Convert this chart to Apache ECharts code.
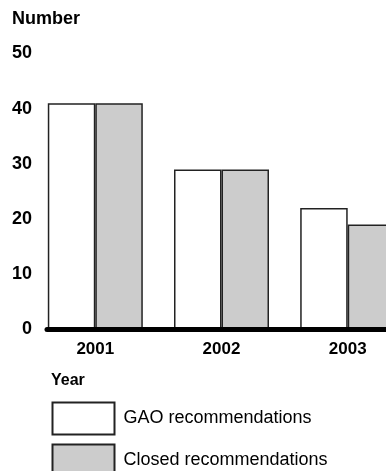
<!DOCTYPE html>
<html>
<head>
<meta charset="utf-8">
<script src="https://cdn.jsdelivr.net/npm/echarts@6/dist/echarts.min.js"></script>
<style>
  html, body { margin: 0; padding: 0; background: #ffffff; }
  #chart { width: 386px; height: 471px; }
</style>
</head>
<body>
<div id="chart"></div>
<script>
// Recommendations by year
var years = ['2001', '2002', '2003'];
var gaoRecommendations = [41, 29, 22];
var closedRecommendations = [41, 29, 19];
var yTicks = { min: 0, max: 50, interval: 10 };

var FONT = '"Liberation Sans", Arial, Helvetica, sans-serif';
var GRID_TOP = 53.5;
var GRID_BOTTOM = 141.5;

var chart = echarts.init(document.getElementById('chart'), null, { renderer: 'canvas' });

chart.setOption({
  animation: false,
  backgroundColor: '#ffffff',
  title: [
    {
      text: 'Number',
      left: 12, top: 10, padding: 0,
      textStyle: { fontFamily: FONT, fontSize: 18, fontWeight: 'bold', color: '#000' }
    },
    {
      text: 'Year',
      left: 51, top: 373, padding: 0,
      textStyle: { fontFamily: FONT, fontSize: 16, fontWeight: 'bold', color: '#000' }
    }
  ],
  legend: {
    orient: 'vertical',
    left: 51.5, top: 401.5, padding: 0,
    height: 120,
    itemWidth: 62, itemHeight: 32, itemGap: 8,
    icon: 'rect',
    textStyle: { fontFamily: FONT, fontSize: 18, color: '#000', padding: [0, 0, 0, 4] },
    data: ['GAO recommendations', 'Closed recommendations']
  },
  grid: [
    // bars: year ticks sit on the white/grey seam of each pair
    { left: 95.3, right: 38.3, top: GRID_TOP, bottom: GRID_BOTTOM, containLabel: false },
    // baseline, starting at the first bar
    { left: 47, right: 0, top: GRID_TOP, bottom: GRID_BOTTOM, containLabel: false }
  ],
  xAxis: [
    {
      type: 'category', gridIndex: 0, data: years, boundaryGap: false,
      axisLine: { show: false }, axisTick: { show: false },
      axisLabel: { margin: 11, fontFamily: FONT, fontSize: 17, fontWeight: 'bold', color: '#000' }
    },
    {
      type: 'value', gridIndex: 1, min: 0, max: 1, z: 10,
      axisLine: { show: true, lineStyle: { color: '#000', width: 5 } },
      axisTick: { show: false }, axisLabel: { show: false }, splitLine: { show: false }
    }
  ],
  yAxis: [
    {
      type: 'value', gridIndex: 0,
      min: yTicks.min, max: yTicks.max, interval: yTicks.interval,
      axisLine: { show: false }, axisTick: { show: false }, splitLine: { show: false },
      axisLabel: { margin: 63.3, fontFamily: FONT, fontSize: 18, fontWeight: 'bold', color: '#000' }
    },
    {
      type: 'value', gridIndex: 1, min: yTicks.min, max: yTicks.max, show: false
    }
  ],
  series: [
    {
      name: 'GAO recommendations', type: 'bar', xAxisIndex: 0, yAxisIndex: 0,
      data: gaoRecommendations, barWidth: 47.5, barGap: '0%', clip: false,
      itemStyle: { color: '#ffffff', borderColor: '#222222', borderWidth: 1.5 }
    },
    {
      name: 'Closed recommendations', type: 'bar', xAxisIndex: 0, yAxisIndex: 0,
      data: closedRecommendations, barWidth: 47.5, barGap: '0%', clip: false,
      itemStyle: { color: '#cccccc', borderColor: '#222222', borderWidth: 1.5 }
    }
  ]
});
</script>
</body>
</html>
